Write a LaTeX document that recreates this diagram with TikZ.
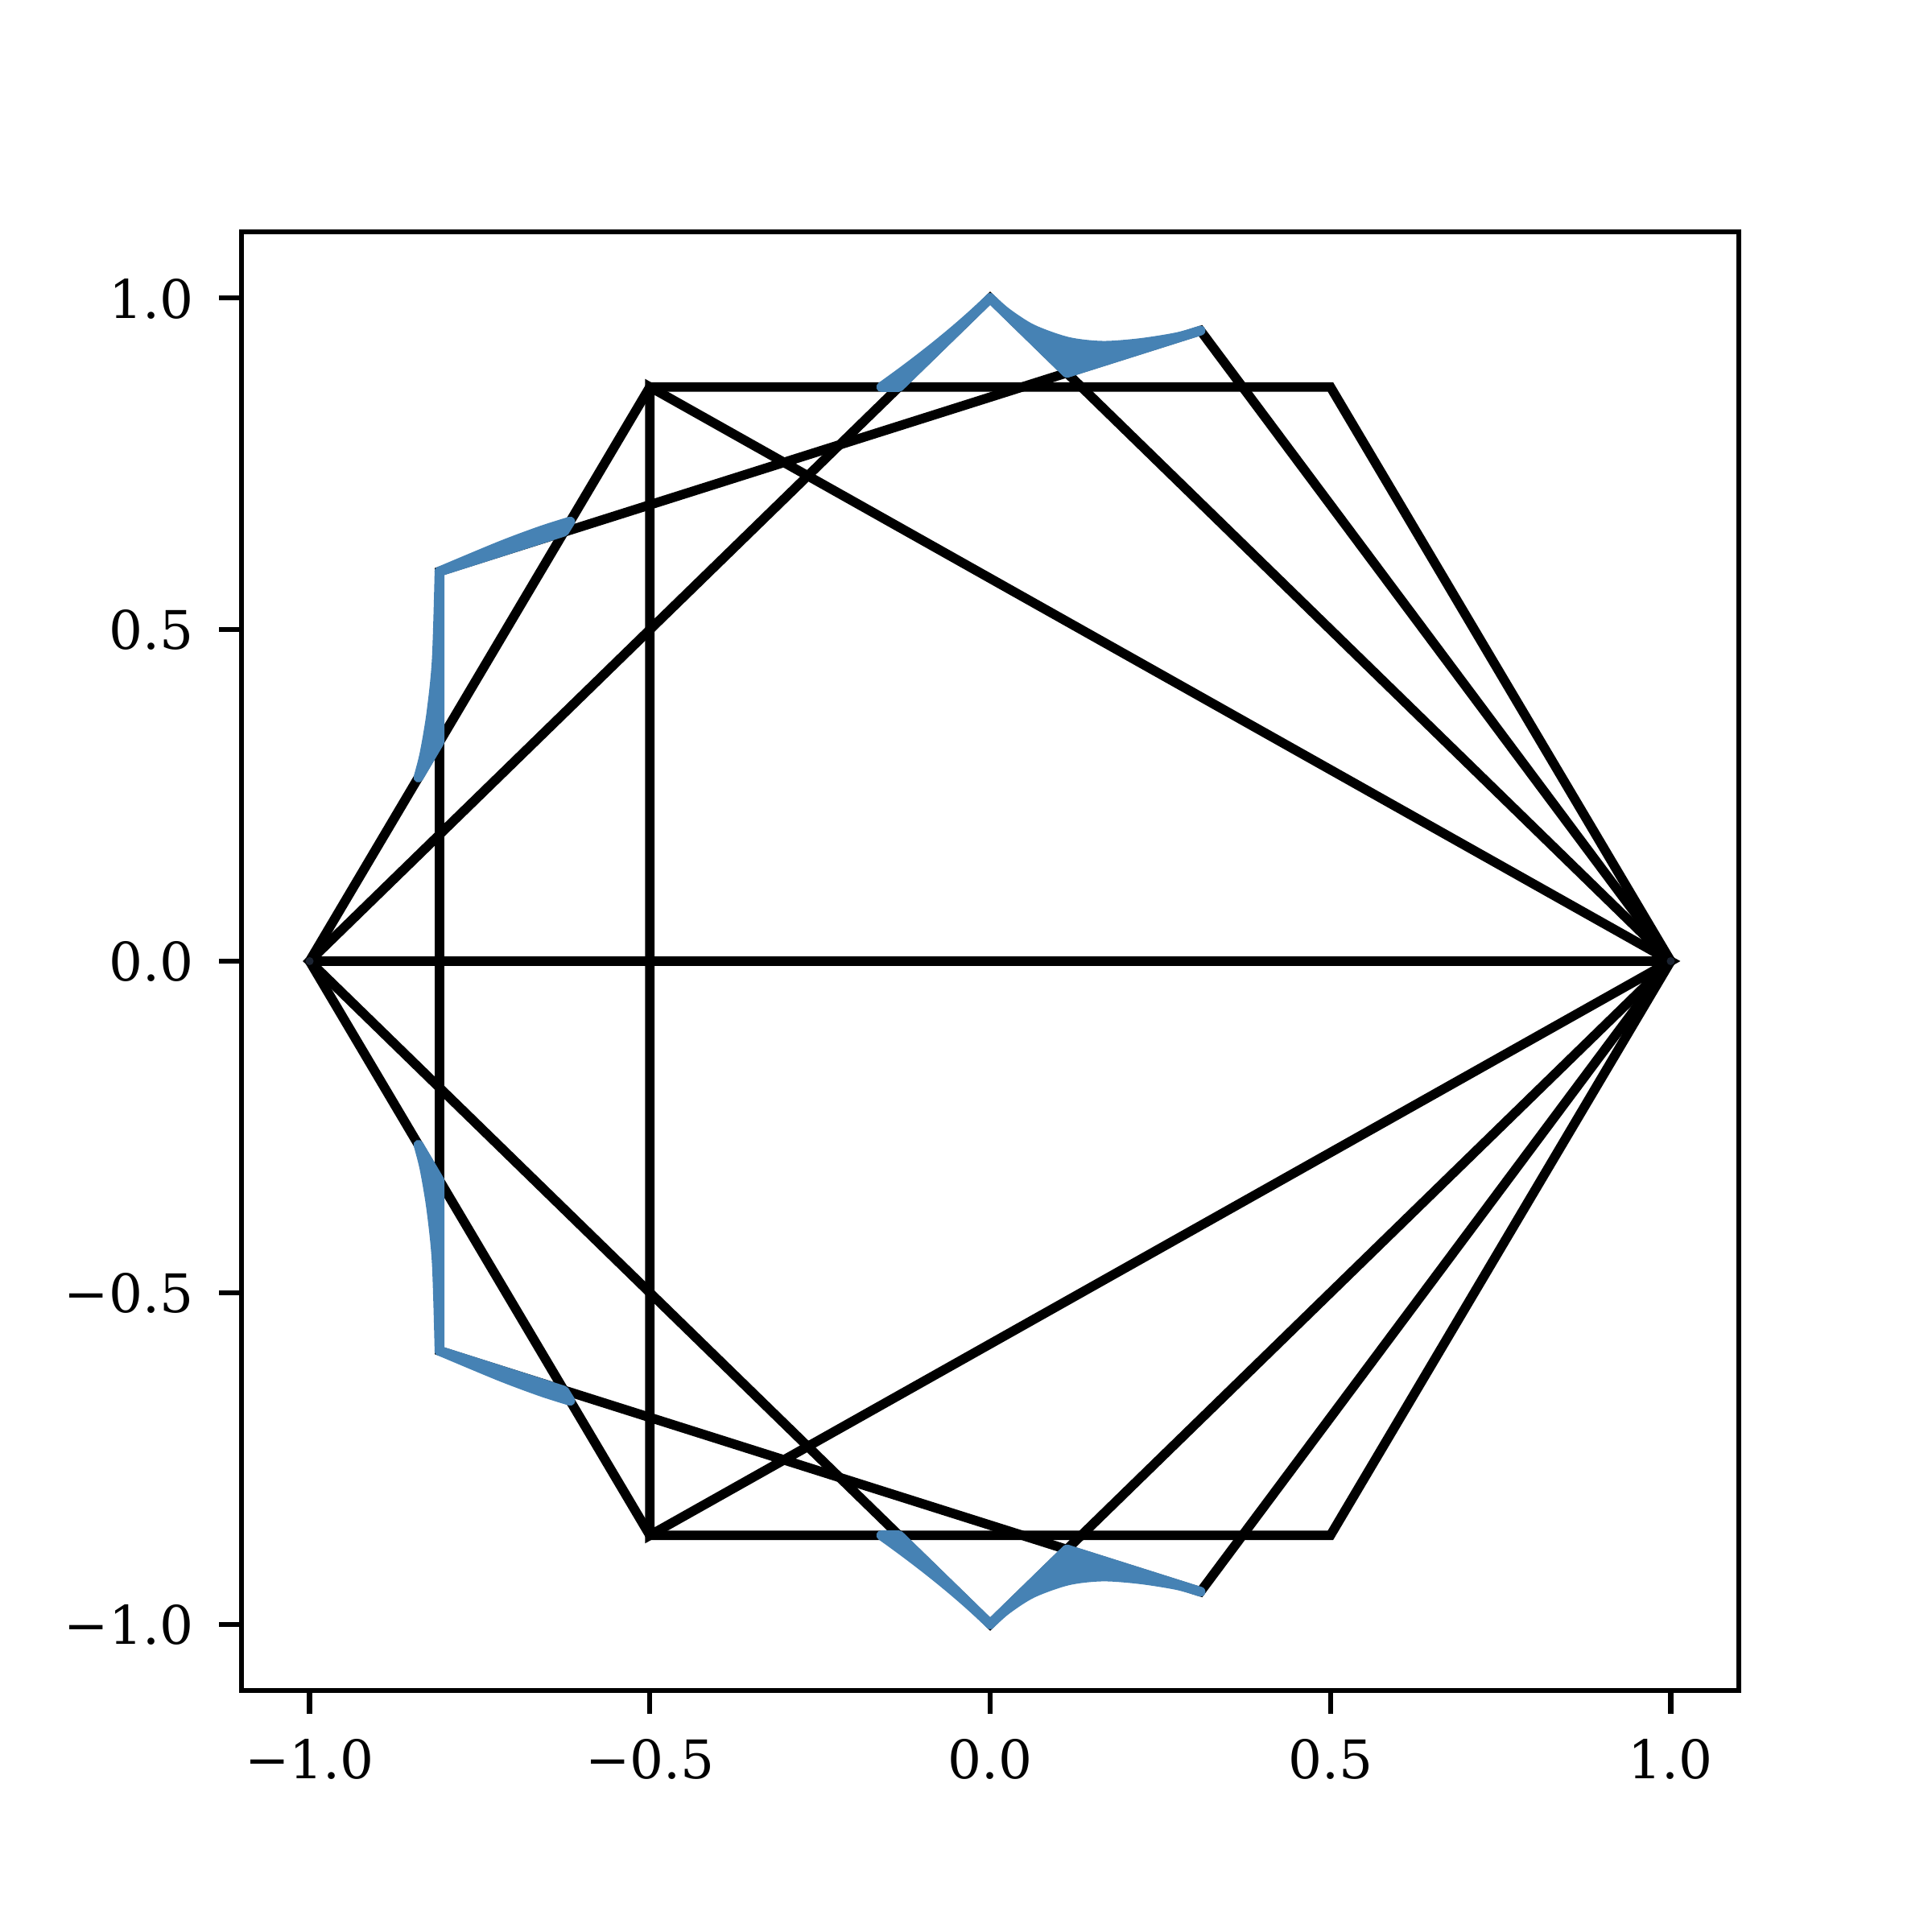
\documentclass[tikz,border=0pt]{standalone}
\usepackage{fontspec}
\setmainfont{DejaVu Serif}
\definecolor{steel}{RGB}{70,130,180}
\definecolor{dotc}{RGB}{28,36,50}
\newcommand\myblobs{%
  \filldraw[blob] (0,1) -- (0.1127,0.8873) -- plot[smooth] coordinates {(0.3090,0.9511) (0.275,0.941) (0.220,0.932) (0.165,0.928) (0.114,0.934) (0.062,0.953) (0.024,0.978) (0,1)} -- cycle;
  \filldraw[blob] (0,1) -- (-0.134,0.866) -- (-0.160,0.866) .. controls (-0.0953,0.9133) and (-0.042,0.958) .. (0,1) -- cycle;
  \filldraw[blob] (-0.8090,0.5878) -- (-0.626,0.648) -- plot[smooth] coordinates {(-0.617,0.663) (-0.66,0.649) (-0.72,0.626) (-0.8090,0.5878)} -- cycle;
  \filldraw[blob] (-0.8090,0.5878) -- (-0.8090,0.331) -- plot[smooth] coordinates {(-0.840,0.277) (-0.831,0.313) (-0.821,0.374) (-0.813,0.455) (-0.8090,0.5878)} -- cycle;
}
\begin{document}
\begin{tikzpicture}[
  poly/.style={draw=black, line width=3.33pt, line join=miter},
  blob/.style={fill=steel, draw=steel, line width=3.5pt, line join=round, line cap=round},
  axframe/.style={draw=black, line width=1.75pt, line join=miter},
  ticklab/.style={inner sep=0pt, font=\fontsize{18.8}{22}\selectfont}
]
\useasboundingbox (0,0) rectangle (24,24);
\begin{scope}[shift={(12.30,12.06)}, x=8.4545cm, y=8.236cm]
  % regular polygons
  \draw[poly] (1,0) -- (-1,0);
  \draw[poly] (1,0) -- (-0.5,0.8660) -- (-0.5,-0.8660) -- cycle;
  \draw[poly] (1,0) -- (0,1) -- (-1,0) -- (0,-1) -- cycle;
  \draw[poly] (1,0) -- (0.3090,0.9511) -- (-0.8090,0.5878) -- (-0.8090,-0.5878) -- (0.3090,-0.9511) -- cycle;
  \draw[poly] (1,0) -- (0.5,0.8660) -- (-0.5,0.8660) -- (-1,0) -- (-0.5,-0.8660) -- (0.5,-0.8660) -- cycle;
  % blue pieces
  \myblobs
  \begin{scope}[yscale=-1]
    \myblobs
  \end{scope}
  % small markers
  \fill[dotc] (1,0) circle[radius=0.05cm];
  \fill[dotc] (-1,0) circle[radius=0.05cm];
  % axes frame
  \draw[axframe] (-1.1,-1.1) rectangle (1.1,1.1);
  \foreach \v/\t in {-1/−1.0, -0.5/−0.5, 0/0.0, 0.5/0.5, 1/1.0} {
    \draw[axframe] (\v,-1.1) -- (\v,-1.1353);
    \node[ticklab, anchor=base] (xl\v) at (\v,-1.2336) {\t};
    \draw[axframe] (-1.1,\v) -- (-1.1331,\v);
    \node[ticklab, anchor=base east] (yl\v) at (-1.1700,\v-0.0300) {\t};
  }
\end{scope}
\end{tikzpicture}
\end{document}
